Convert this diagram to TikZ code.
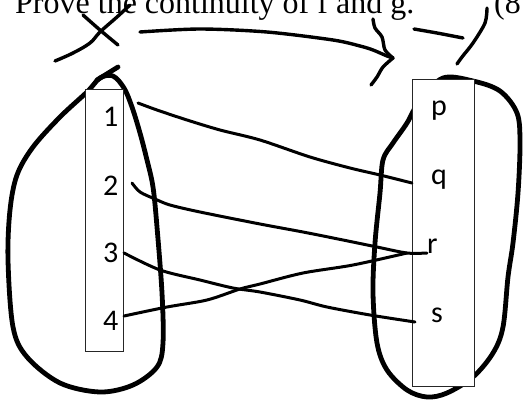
\documentclass[tikz,border=0pt]{standalone}
\usepackage{fontspec}
\newfontfamily\titlefont{Liberation Serif}
\newfontfamily\labfont{Carlito}
\begin{document}
\begin{tikzpicture}[x=1pt,y=-1pt,
  ink/.style={line width=4.8pt,line cap=round,line join=round},
  pen/.style={line width=3.4pt,line cap=round,line join=round},
  wire/.style={line width=3pt,line cap=round,line join=round},
  setbox/.style={draw=black!85,line width=0.9pt,fill=white},
  lab/.style={font=\labfont\fontsize{30}{30}\selectfont,inner sep=0pt},
  head/.style={font=\titlefont\fontsize{32}{32}\selectfont,inner sep=0pt}]
\useasboundingbox (0,0) rectangle (523,400);

% heading line
\node[head,anchor=base west] (title) at (15,13) {Prove the continuity of f and g.};
\node[head,anchor=base west] (mark) at (494,13) {(8};

% handwritten cross
\draw[pen] plot[smooth,tension=0.6] coordinates {(55,61) (73,53) (90,43) (100,32) (117,17) (130,5)};
\draw[pen] plot[smooth,tension=0.6] coordinates {(83,15) (100,30) (118,45)};

% handwritten arrow between the two sets
\draw[pen] plot[smooth,tension=0.5] coordinates {(140,32) (200,29) (267,32) (333,40) (360,46) (373,50) (387,56) (393,58)};
\draw[pen] plot[smooth,tension=0.5] coordinates {(373,19) (375,28) (382,37) (385,50) (393,58)};
\draw[pen] plot[smooth,tension=0.5] coordinates {(393,58) (383,67) (377,77) (371,85)};

% small strokes on the right
\draw[pen] plot[smooth,tension=0.5] coordinates {(414,29) (437,33) (463,38)};
\draw[pen] plot[smooth,tension=0.5] coordinates {(487,8) (485,23) (473,43) (462,57) (457,64)};

% outline of the left set
\draw[ink] plot[smooth cycle,tension=0.55] coordinates {
  (100,78) (87,92) (60,117) (33,147) (17,175) (10,210) (8,260) (13,327)
  (27,357) (60,383) (100,392) (133,385) (157,367) (163,343) (162,293)
  (157,227) (153,187) (147,160) (140,133) (132,107) (124,88) (113,76)};
\draw[ink] (97,80) -- (118,67);

% outline of the right set
\draw[ink] plot[smooth cycle,tension=0.55] coordinates {
  (443,78) (473,81) (500,91) (517,113) (520,143) (518,193) (513,243)
  (508,277) (503,327) (493,353) (473,377) (447,393) (427,397) (407,390)
  (387,370) (377,343) (373,293) (375,243) (380,193) (383,160) (393,143)
  (407,123) (420,100)};

% the two columns of elements
\node[setbox,minimum width=38pt,minimum height=262pt,anchor=north west] (A) at (85,89) {};
\node[setbox,minimum width=62pt,minimum height=307pt,anchor=north west] (B) at (412,79) {};

\node[lab,anchor=base east] (n1) at (118.5,126.5) {1};
\node[lab,anchor=base east] (n2) at (118.5,195) {2};
\node[lab,anchor=base east] (n3) at (118.5,262.5) {3};
\node[lab,anchor=base east] (n4) at (118.5,330) {4};

\node[lab,anchor=base west] (p) at (431,115) {p};
\node[lab,anchor=base west] (q) at (431,184) {q};
\node[lab,anchor=base west] (r) at (427,253) {r};
\node[lab,anchor=base west] (s) at (431,322) {s};

% end points of the mapping lines
\coordinate (a1) at (138,103);
\coordinate (a2) at (132,183);
\coordinate (a3) at (124,253);
\coordinate (a4) at (124,316);
\coordinate (bq) at (412,183);
\coordinate (br) at (427,253);
\coordinate (bs) at (415,322);

% mapping lines
\draw[wire] plot[smooth,tension=0.5] coordinates {(a1) (157,110) (187,120) (220,130) (260,140) (310,157) (350,168) (380,175) (bq)};
\draw[wire] plot[smooth,tension=0.5] coordinates {(a2) (140,192) (155,199) (170,205) (200,212) (260,224) (303,232) (343,240) (377,247) (407,253) (br)};
\draw[wire] plot[smooth,tension=0.5] coordinates {(a3) (160,270) (200,280) (233,288) (260,292) (300,300) (327,307) (370,315) (bs)};
\draw[wire] plot[smooth,tension=0.5] coordinates {(a4) (167,307) (207,300) (240,289) (260,284) (303,273) (353,265) (407,253)};
\end{tikzpicture}
\end{document}
